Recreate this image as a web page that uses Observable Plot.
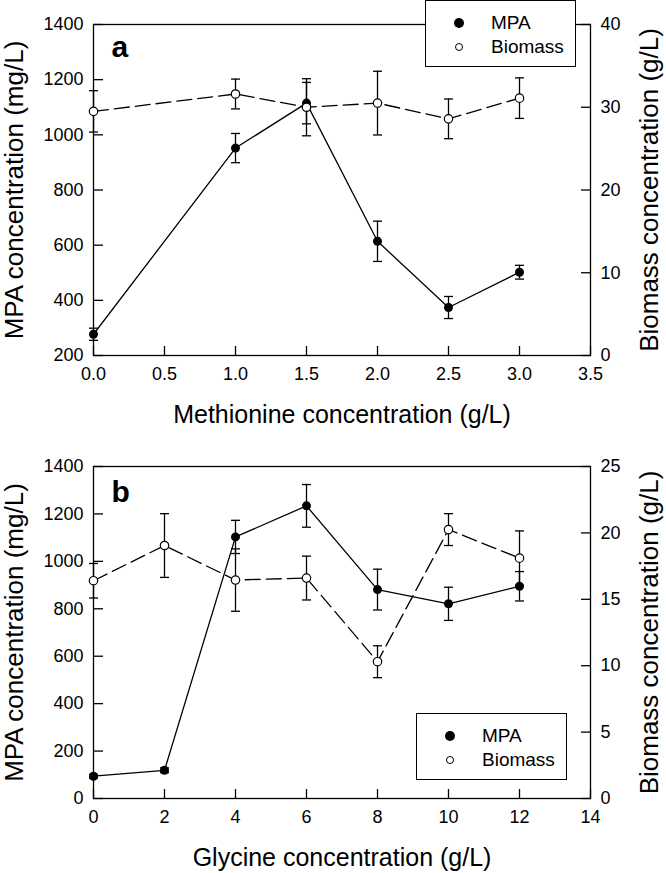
<!DOCTYPE html>
<html>
<head>
<meta charset="utf-8">
<script src="https://cdn.jsdelivr.net/npm/d3@7"></script>
<script src="https://cdn.jsdelivr.net/npm/@observablehq/plot@0.6"></script>
<style>
  html, body { margin: 0; padding: 0; background: #fff; }
  body { font-family: "Liberation Sans", Arial, sans-serif; width: 666px; height: 873px; overflow: hidden; }
  .panel { position: relative; width: 666px; }
  .panel svg { position: absolute; left: 0; top: 0; }
  .legend { position: absolute; background: #fff; border: 1.3px solid #000; box-sizing: border-box; width: 151px; height: 67px; z-index: 5; }
  .legend .sw { position: absolute; box-sizing: border-box; border-radius: 50%; }
  .legend .sw.filled { width: 10px; height: 10px; background: #000; }
  .legend .sw.open { width: 8px; height: 8px; border: 1.3px solid #000; background: #fff; }
  .legend .lab { position: absolute; font-size: 19px; line-height: 20px; color: #000; }
</style>
</head>
<body>
<div id="chart"></div>
<script>
// ---------- data ----------
// Panel a: methionine
const metX = [0, 1.0, 1.5, 2.0, 2.5, 3.0];
const metMPA = [277, 952, 1115, 614, 374, 502];
const metMPAErr = [22, 53, 75, 73, 40, 25];
const metBio = [29.5, 31.6, 30.0, 30.5, 28.6, 31.1];
const metBioErr = [2.5, 1.8, 3.45, 3.85, 2.4, 2.45];

// Panel b: glycine
const glyX = [0, 2, 4, 6, 8, 10, 12];
const glyMPA = [94, 119, 1103, 1234, 881, 821, 895];
const glyMPAErr = [8, 10, 70, 90, 86, 70, 62];
const glyBio = [16.4, 19.05, 16.45, 16.6, 10.3, 20.25, 18.1];
const glyBioErr = [1.3, 2.4, 2.35, 1.65, 1.2, 1.2, 2.05];

// Tick values
const metXTicks = [0, 0.5, 1.0, 1.5, 2.0, 2.5, 3.0, 3.5];
const metMPATicks = [200, 400, 600, 800, 1000, 1200, 1400];
const metBioTicks = [0, 10, 20, 30, 40];
const glyXTicks = [0, 2, 4, 6, 8, 10, 12, 14];
const glyMPATicks = [0, 200, 400, 600, 800, 1000, 1200, 1400];
const glyBioTicks = [0, 5, 10, 15, 20, 25];

// Texts
const legendLabels = ["MPA", "Biomass"];
const yLeftTitle = "MPA concentration (mg/L)";
const yRightTitle = "Biomass concentration (g/L)";

// ---------- drawing ----------
const FONT = "Liberation Sans, Arial, sans-serif";
const capSymbol = { draw(ctx) { ctx.moveTo(-4.5, 0); ctx.lineTo(4.5, 0); } };

function rowsOf(x, y, err) {
  return x.map((v, i) => ({ x: v, y: y[i], lo: y[i] - err[i], hi: y[i] + err[i] }));
}

function layer(cfg) {
  const { height, mt, mb, xDomain, yDomain, side, rows, filled } = cfg;
  const marks = [];
  if (side === "left") {
    marks.push(Plot.frame({ stroke: "#000", strokeWidth: 1.3 }));
    marks.push(Plot.axisX({ ticks: cfg.xTicks, tickFormat: cfg.xFmt, tickSize: -9, tickPadding: 21, label: null, fontSize: 18, strokeWidth: 1.3 }));
    marks.push(Plot.axisY({ anchor: "left", ticks: cfg.yTicks, tickFormat: d3.format("d"), tickSize: -10, tickPadding: 20, label: null, fontSize: 18, strokeWidth: 1.3 }));
    marks.push(Plot.text([cfg.xTitle], { text: d => d, frameAnchor: "bottom", dy: 50, textAnchor: "middle", lineAnchor: "top", fontSize: 25 }));
    marks.push(Plot.text([yLeftTitle], { text: d => d, frameAnchor: "left", dx: -78.5, rotate: -90, fontSize: 26, textAnchor: "middle", lineAnchor: "middle" }));
    marks.push(Plot.text([cfg.letter], { text: d => d, frameAnchor: "top-left", dx: 18, dy: cfg.letterDy, fontSize: 30, fontWeight: "bold", textAnchor: "start", lineAnchor: "middle" }));
  } else {
    marks.push(Plot.axisY({ anchor: "right", ticks: cfg.yTicks, tickFormat: d3.format("d"), tickSize: -10, tickPadding: 20, label: null, fontSize: 18, strokeWidth: 1.3 }));
    marks.push(Plot.text([yRightTitle], { text: d => d, frameAnchor: "right", dx: 59.5, rotate: -90, fontSize: 26, textAnchor: "middle", lineAnchor: "middle" }));
  }
  // error bars
  marks.push(Plot.ruleX(rows, { x: "x", y1: "lo", y2: "hi", stroke: "#000", strokeWidth: 1.3 }));
  marks.push(Plot.dot(rows, { x: "x", y: "lo", symbol: capSymbol, stroke: "#000", strokeWidth: 1.3, fill: "none" }));
  marks.push(Plot.dot(rows, { x: "x", y: "hi", symbol: capSymbol, stroke: "#000", strokeWidth: 1.3, fill: "none" }));
  // line
  marks.push(Plot.line(rows, { x: "x", y: "y", stroke: "#000", strokeWidth: 1.3, strokeDasharray: filled ? null : "15,6" }));
  // points
  if (filled) marks.push(Plot.dot(rows, { x: "x", y: "y", r: 4.5, fill: "#000", stroke: "none" }));
  else marks.push(Plot.dot(rows, { x: "x", y: "y", r: 4.2, fill: "#fff", stroke: "#000", strokeWidth: 1.2 }));

  return Plot.plot({
    width: 666, height, marginLeft: 93, marginRight: 76, marginTop: mt, marginBottom: mb,
    style: { background: "transparent", fontFamily: FONT, fontSize: "18px", color: "#000", overflow: "visible" },
    x: { domain: xDomain, axis: side === "left" ? undefined : null },
    y: { domain: yDomain, axis: null },
    marks
  });
}

function legend(top, left) {
  const box = document.createElement("div");
  box.className = "legend";
  box.style.top = top + "px";
  box.style.left = left + "px";
  legendLabels.forEach((lab, i) => {
    const cy = 22 + i * 24;
    const sw = document.createElement("div");
    sw.className = "sw " + (i === 0 ? "filled" : "open");
    const d = i === 0 ? 10 : 8;
    sw.style.left = (33 - d / 2) + "px";
    sw.style.top = (cy - d / 2) + "px";
    box.appendChild(sw);
    const t = document.createElement("div");
    t.className = "lab";
    t.textContent = lab;
    t.style.left = "65px";
    t.style.top = (cy - 10) + "px";
    box.appendChild(t);
  });
  return box;
}

function panel(cfg) {
  const div = document.createElement("div");
  div.className = "panel";
  div.style.height = cfg.height + "px";
  const common = { height: cfg.height, mt: cfg.mt, mb: cfg.mb, xDomain: cfg.xDomain, xTicks: cfg.xTicks, xFmt: cfg.xFmt };
  div.appendChild(layer({ ...common, side: "left", yDomain: cfg.mpaDomain, yTicks: cfg.mpaTicks, rows: rowsOf(cfg.x, cfg.mpa, cfg.mpaErr), filled: true, xTitle: cfg.xTitle, letter: cfg.letter, letterDy: cfg.letterDy }));
  div.appendChild(layer({ ...common, side: "right", yDomain: cfg.bioDomain, yTicks: cfg.bioTicks, rows: rowsOf(cfg.x, cfg.bio, cfg.bioErr), filled: false }));
  div.appendChild(legend(cfg.legendTop, cfg.legendLeft));
  return div;
}

const root = document.getElementById("chart");
root.appendChild(panel({
  height: 436, mt: 24, mb: 81,
  xDomain: [0, 3.5], xTicks: metXTicks, xFmt: d3.format(".1f"),
  mpaDomain: [200, 1400], mpaTicks: metMPATicks,
  bioDomain: [0, 40], bioTicks: metBioTicks,
  x: metX, mpa: metMPA, mpaErr: metMPAErr, bio: metBio, bioErr: metBioErr,
  xTitle: "Methionine concentration (g/L)", letter: "a", letterDy: 23,
  legendTop: 0, legendLeft: 425
}));
root.appendChild(panel({
  height: 437, mt: 30, mb: 75,
  xDomain: [0, 14], xTicks: glyXTicks, xFmt: d3.format("d"),
  mpaDomain: [0, 1400], mpaTicks: glyMPATicks,
  bioDomain: [0, 25], bioTicks: glyBioTicks,
  x: glyX, mpa: glyMPA, mpaErr: glyMPAErr, bio: glyBio, bioErr: glyBioErr,
  xTitle: "Glycine concentration (g/L)", letter: "b", letterDy: 26,
  legendTop: 277, legendLeft: 416
}));
</script>
</body>
</html>
